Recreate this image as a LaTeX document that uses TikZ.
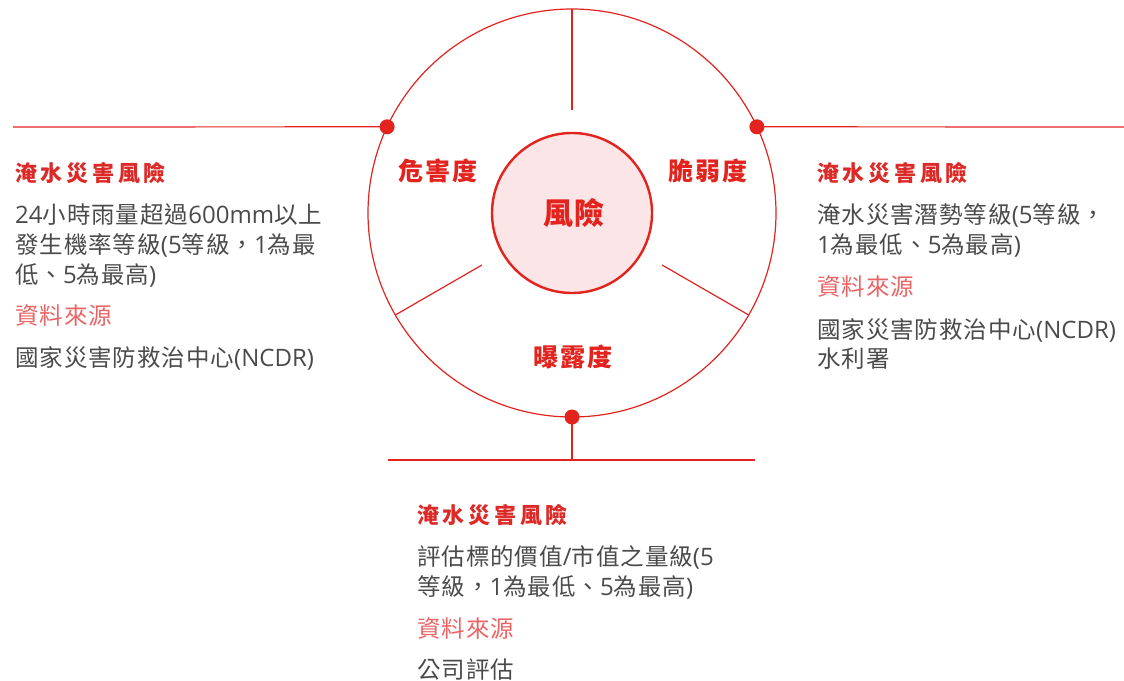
\documentclass[tikz,border=0pt]{standalone}
\usepackage{fontspec}
\usetikzlibrary{calc}
\setmainfont{Noto Sans CJK TC}[Script=CJK, Language=Chinese Traditional]
\newfontfamily\bodyfont{Noto Sans CJK TC}[Script=CJK, Language=Chinese Traditional, LetterSpace=4]
\newfontfamily\headfont{Noto Sans CJK TC}[Script=CJK, Language=Chinese Traditional, LetterSpace=17]
\newfontfamily\lblfont{Noto Sans CJK TC}[Script=CJK, Language=Chinese Traditional, LetterSpace=9]
\newfontfamily\ctrfont{Noto Sans CJK TC}[Script=CJK, Language=Chinese Traditional, LetterSpace=4]
\newfontfamily\latfont{Open Sans}
\newcommand\latn[1]{{\latfont\fontsize{24}{30}\selectfont #1}}
\definecolor{rd}{HTML}{E2231E}
\definecolor{hd}{HTML}{DC2A28}
\definecolor{src}{HTML}{EA6464}
\definecolor{gy}{HTML}{4A4A4A}
\definecolor{pk}{HTML}{FBE5E6}
\tikzset{
  ln/.style={draw=rd, line width=1.2pt},
  dotmark/.style={circle, fill=rd, inner sep=0pt, minimum size=15pt},
  ttl/.style={anchor=base west, inner sep=0pt, text=hd, font=\headfont\fontsize{22}{22}\selectfont\bfseries},
  body/.style={anchor=base west, inner sep=0pt, text=gy, font=\bodyfont\fontsize{23.5}{30}\selectfont},
  srcl/.style={anchor=base west, inner sep=0pt, text=src, font=\bodyfont\fontsize{23.5}{30}\selectfont},
  lbl/.style={inner sep=0pt, text=rd, font=\lblfont\fontsize{25}{25}\selectfont\bfseries},
}
\begin{document}
\begin{tikzpicture}[x=1pt,y=-1pt]
\useasboundingbox (0,0) rectangle (1124,680);
\coordinate (C) at (572,213);
\node[circle, draw=rd, line width=1.2pt, minimum size=408pt, inner sep=0pt, outer sep=0pt] (outer) at (C) {};
\node[circle, draw=rd, fill=pk, line width=2.4pt, minimum size=160pt, inner sep=0pt, outer sep=0pt] (inner) at (C) {};
% spokes
\draw[ln] ($(C)!0.505!(outer.90)$) -- (outer.90);
\draw[ln] ($(C)!0.51!(outer.210)$) -- (outer.210);
\draw[ln] ($(C)!0.51!(outer.330)$) -- (outer.330);
% dots and leader lines
\node[dotmark] (dL) at (outer.155) {};
\node[dotmark] (dR) at (outer.25) {};
\node[dotmark] (dB) at (outer.270) {};
\coordinate (lend) at (13,127);
\coordinate (rend) at (1124,127);
\coordinate (bjoin) at (572,460);
\coordinate (bl) at (388,460);
\coordinate (br) at (755,460);
\draw[ln] (lend) -- (dL.center);
\draw[ln] (dR.center) -- (rend);
\draw[ln] (dB.center) -- (bjoin);
\draw[ln] (bl) -- (br);
% circle labels
\node[text=rd, inner sep=0pt, font=\ctrfont\fontsize{30}{30}\selectfont\bfseries] (risk) at (574,213) {風險};
\node[lbl] (haz) at (438,171) {危害度};
\node[lbl] (vul) at (708,171) {脆弱度};
\node[lbl] (exp) at (573,357) {曝露度};
% left block
\node[ttl] (lt) at (15,181) {淹水災害風險};
\node[body] (l1) at (15,223) {\latn{24}小時雨量超過\latn{600mm}以上};
\node[body] (l2) at (15,253) {發生機率等級\latn{(5}等級，\latn{1}為最};
\node[body] (l3) at (15,283) {低、\latn{5}為最高\latn{)}};
\node[srcl] (ls) at (15,324) {資料來源};
\node[body] (lsrc) at (15,366) {國家災害防救治中心\latn{(NCDR)}};
% right block
\node[ttl] (rt) at (817,181) {淹水災害風險};
\node[body] (r1) at (817,223) {淹水災害潛勢等級\latn{(5}等級，};
\node[body] (r2) at (817,253) {\latn{1}為最低、\latn{5}為最高\latn{)}};
\node[srcl] (rs) at (817,295) {資料來源};
\node[body] (rsrc1) at (817,338) {國家災害防救治中心\latn{(NCDR)}、};
\node[body] (rsrc2) at (817,367) {水利署};
% bottom block
\node[ttl] (bt) at (417,523) {淹水災害風險};
\node[body] (b1) at (417,565) {評估標的價值\latn{/}市值之量級\latn{(5}};
\node[body] (b2) at (417,595) {等級，\latn{1}為最低、\latn{5}為最高\latn{)}};
\node[srcl] (bs) at (417,637) {資料來源};
\node[body] (bsrc) at (417,678) {公司評估};
\end{tikzpicture}
\end{document}
